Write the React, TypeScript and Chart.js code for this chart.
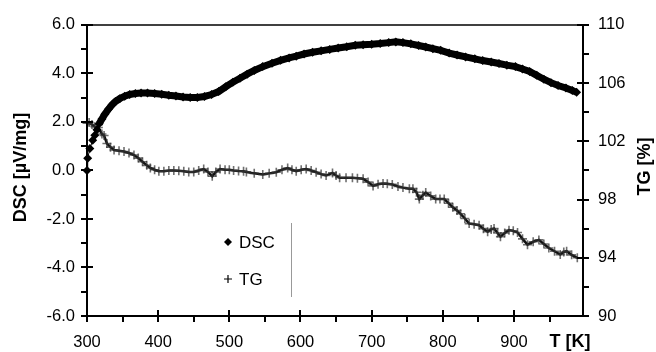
import React, { useEffect, useRef } from "react";
import { Chart, registerables } from "chart.js";

Chart.register(...registerables);

// ---- data ----
const dscTemp = [
  300, 301, 304, 308, 311, 314, 317, 321, 325, 330, 335, 340, 346, 353, 360, 368, 376, 385, 395, 405,
  415, 425, 435, 445, 455, 465, 475, 485, 495, 505, 515, 525, 535, 547, 560, 572, 584, 594, 605, 617,
  629, 641, 653, 665, 677, 688, 700, 712, 724, 734, 744, 755, 766, 776, 786, 797, 809, 820, 832, 845,
  856, 868, 879, 890, 902, 912, 922, 932, 942, 952, 962, 973, 982, 988,
];
const dscValues = [
  0.0, 0.5, 0.9, 1.24, 1.45, 1.68, 1.92, 2.12, 2.32, 2.52, 2.7, 2.84, 2.96, 3.06, 3.13, 3.17, 3.19, 3.19, 3.17, 3.14,
  3.1, 3.07, 3.03, 3.01, 3.01, 3.05, 3.13, 3.25, 3.45, 3.64, 3.8, 3.97, 4.12, 4.28, 4.42, 4.54, 4.64, 4.71, 4.8, 4.87,
  4.93, 4.99, 5.05, 5.1, 5.16, 5.18, 5.2, 5.23, 5.27, 5.3, 5.27, 5.22, 5.15, 5.09, 5.02, 4.95, 4.84, 4.76, 4.68, 4.6,
  4.53, 4.47, 4.41, 4.34, 4.28, 4.18, 4.08, 3.92, 3.76, 3.62, 3.5, 3.4, 3.3, 3.22,
];
const tgTemp = [
  300, 303, 307, 311, 316, 321, 324, 328, 333, 338, 345, 352, 359, 366, 372, 378, 384, 389, 395, 401,
  408, 415, 422, 429, 436, 443, 450, 457, 464, 470, 476, 481, 487, 494, 500, 506, 513, 520, 524, 535,
  547, 556, 566, 574, 582, 588, 594, 601, 608, 615, 622, 629, 636, 645, 650, 655, 664, 673, 680, 688,
  695, 702, 709, 716, 722, 729, 737, 744, 753, 758, 763, 767, 772, 776, 783, 790, 796, 802, 808, 814,
  820, 825, 831, 837, 844, 851, 857, 863, 868, 872, 877, 881, 887, 893, 899, 905, 912, 919, 927, 935,
  942, 949, 957, 965, 970, 974, 981, 989,
];
const tgValues = [
  103.25, 103.3, 103.15, 103.0, 102.95, 102.5, 102.4, 101.85, 101.6, 101.4, 101.35, 101.3, 101.2, 101.06, 100.85, 100.6, 100.35, 100.17, 100.05, 99.95,
  99.95, 100.0, 100.0, 99.98, 99.95, 99.9, 99.9, 100.0, 100.1, 99.9, 99.6, 99.9, 100.1, 100.05, 100.05, 100.0, 99.97, 99.95, 99.9, 99.8,
  99.72, 99.8, 99.88, 100.05, 100.17, 100.05, 99.95, 100.05, 100.1, 100.0, 99.88, 99.75, 99.65, 99.83, 99.65, 99.5, 99.5, 99.5, 99.47, 99.43,
  99.2, 98.94, 99.05, 99.11, 99.08, 99.04, 98.9, 98.82, 98.75, 98.75, 98.5, 98.03, 98.3, 98.48, 98.25, 98.03, 98.03, 98.03, 97.75, 97.47,
  97.25, 97.02, 96.7, 96.35, 96.3, 96.24, 96.0, 95.79, 95.95, 96.01, 95.7, 95.45, 95.7, 95.9, 95.85, 95.74, 95.3, 94.9, 95.1, 95.23,
  94.95, 94.67, 94.45, 94.22, 94.4, 94.45, 94.2, 94.0,
];

const xMin = 300;
const xMax = 997;
const dscMin = -6;
const dscMax = 6;
const tgMin = 90;
const tgMax = 110;

const seriesNames = ["DSC", "TG"];
const xTitle = "T [K]";
const dscTitle = "DSC [\u00b5V/mg]";
const tgTitle = "TG [%]";

const FONT = "'Liberation Sans', Arial, Helvetica, sans-serif";

export default function App() {
  const ref = useRef<HTMLCanvasElement | null>(null);

  useEffect(() => {
    if (!ref.current) return;

    const decor = {
      id: "decor",
      afterDatasetsDraw(chart: any) {
        const { ctx, chartArea: a, scales } = chart;
        ctx.save();
        ctx.strokeStyle = "#000";
        ctx.fillStyle = "#000";
        ctx.lineCap = "butt";
        // frame
        ctx.lineWidth = 2;
        ctx.beginPath();
        ctx.moveTo(a.left, a.top);
        ctx.lineTo(a.left, a.bottom);
        ctx.lineTo(a.right, a.bottom);
        ctx.lineTo(a.right, a.top);
        ctx.stroke();
        ctx.lineWidth = 1.5;
        ctx.beginPath();
        ctx.moveTo(a.left, a.top);
        ctx.lineTo(a.right, a.top);
        ctx.stroke();

        // tick marks
        ctx.lineWidth = 2;
        const xs = scales.x;
        xs.ticks.forEach((t: any) => {
          const px = Math.round(xs.getPixelForValue(t.value));
          const major = t.value % 100 === 0;
          ctx.beginPath();
          ctx.moveTo(px, major ? a.bottom - 6 : a.bottom);
          ctx.lineTo(px, a.bottom + 6);
          ctx.stroke();
        });
        const yl = scales.y;
        yl.ticks.forEach((t: any) => {
          const py = Math.round(yl.getPixelForValue(t.value));
          const major = Math.round(t.value) % 2 === 0;
          ctx.beginPath();
          ctx.moveTo(a.left - 6, py);
          ctx.lineTo(major ? a.left + 6 : a.left, py);
          ctx.stroke();
        });
        const yr = scales.y2;
        yr.ticks.forEach((t: any) => {
          const py = Math.round(yr.getPixelForValue(t.value));
          const major = Math.round(t.value - tgMin) % 4 === 0;
          ctx.beginPath();
          ctx.moveTo(major ? a.right - 6 : a.right, py);
          ctx.lineTo(a.right + 6, py);
          ctx.stroke();
        });

        // axis titles
        ctx.font = `bold 18px ${FONT}`;
        ctx.textAlign = "center";
        ctx.textBaseline = "middle";
        ctx.fillText(xTitle, 570, 342);
        ctx.save();
        ctx.translate(21.5, 167.5);
        ctx.rotate(-Math.PI / 2);
        ctx.fillText(dscTitle, 0, 0);
        ctx.restore();
        ctx.save();
        ctx.translate(645, 166.5);
        ctx.rotate(-Math.PI / 2);
        ctx.fillText(tgTitle, 0, 0);
        ctx.restore();

        // legend
        const lx = 228;
        const ly1 = 242;
        const ly2 = 279;
        ctx.beginPath();
        ctx.moveTo(lx, ly1 - 4);
        ctx.lineTo(lx + 4, ly1);
        ctx.lineTo(lx, ly1 + 4);
        ctx.lineTo(lx - 4, ly1);
        ctx.closePath();
        ctx.fill();
        ctx.lineWidth = 1.2;
        ctx.beginPath();
        ctx.moveTo(lx - 4, ly2);
        ctx.lineTo(lx + 4, ly2);
        ctx.moveTo(lx, ly2 - 4);
        ctx.lineTo(lx, ly2 + 4);
        ctx.stroke();
        ctx.font = `17px ${FONT}`;
        ctx.textAlign = "left";
        ctx.fillText(seriesNames[0], 239, ly1 + 1);
        ctx.fillText(seriesNames[1], 239, ly2 + 1);
        ctx.strokeStyle = "#999";
        ctx.lineWidth = 1;
        ctx.beginPath();
        ctx.moveTo(291.5, 223);
        ctx.lineTo(291.5, 297);
        ctx.stroke();
        ctx.restore();
      },
    };

    const chart = new Chart(ref.current, {
      type: "scatter",
      data: {
        datasets: [
          {
            label: seriesNames[0],
            data: dscTemp.map((t, i) => ({ x: t, y: dscValues[i] })),
            yAxisID: "y",
            showLine: true,
            borderColor: "#000",
            borderWidth: 7,
            backgroundColor: "#000",
            pointStyle: "rectRot",
            pointRadius: 4.5,
            pointBorderWidth: 0,
            pointBackgroundColor: "#000",
            segment: {
              borderWidth: (c: any) => (c.p1.parsed.x <= 317 ? 1 : 7),
            },
            clip: false,
          } as any,
          {
            label: seriesNames[1],
            data: tgTemp.map((t, i) => ({ x: t, y: tgValues[i] })),
            yAxisID: "y2",
            showLine: true,
            borderColor: "#111",
            borderWidth: 2.5,
            pointStyle: "cross",
            pointRadius: 4.5,
            pointBorderWidth: 1.6,
            pointBorderColor: "rgba(50,50,50,0.7)",
            clip: false,
          } as any,
        ],
      },
      options: {
        animation: false,
        responsive: false,
        maintainAspectRatio: false,
        layout: { padding: { top: 19, left: 0, right: 0, bottom: 0 } },
        plugins: {
          legend: { display: false },
          tooltip: { enabled: false },
        },
        scales: {
          x: {
            type: "linear",
            min: xMin,
            max: xMax,
            grid: { display: false, drawTicks: false },
            border: { display: false },
            ticks: {
              stepSize: 50,
              includeBounds: false,
              autoSkip: false,
              maxRotation: 0,
              padding: 17,
              color: "#000",
              font: { family: FONT, size: 16.5 },
              callback: (v: any) => (v % 100 === 0 && v <= 900 ? String(v) : ""),
            },
            afterFit: (s: any) => {
              s.height = 36;
            },
          },
          y: {
            type: "linear",
            position: "left",
            min: dscMin,
            max: dscMax,
            grid: { display: false, drawTicks: false },
            border: { display: false },
            ticks: {
              stepSize: 1,
              includeBounds: false,
              autoSkip: false,
              padding: 12,
              color: "#000",
              font: { family: FONT, size: 16.5 },
              callback: (v: any) => (Math.round(v) % 2 === 0 ? Number(v).toFixed(1) : ""),
            },
            afterFit: (s: any) => {
              s.width = 87;
            },
          },
          y2: {
            type: "linear",
            position: "right",
            min: tgMin,
            max: tgMax,
            grid: { display: false, drawTicks: false },
            border: { display: false },
            ticks: {
              stepSize: 2,
              includeBounds: false,
              autoSkip: false,
              padding: 15,
              color: "#000",
              font: { family: FONT, size: 16.5 },
              callback: (v: any) => (Math.round(v - tgMin) % 4 === 0 ? String(v) : ""),
            },
            afterFit: (s: any) => {
              s.width = 73;
            },
          },
        },
      },
      plugins: [decor],
    });

    return () => chart.destroy();
  }, []);

  return (
    <div style={{ position: "absolute", left: 0, top: 0, width: 656, height: 352, background: "#fff" }}>
      <canvas ref={ref} width={656} height={352} style={{ width: 656, height: 352, display: "block" }} />
    </div>
  );
}
